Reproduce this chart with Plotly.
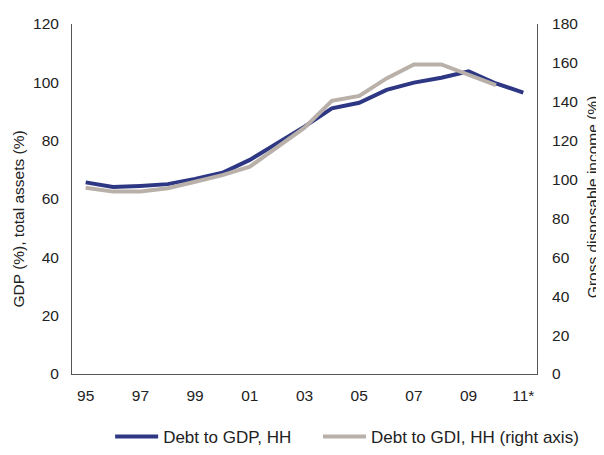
import plotly.graph_objects as go

years = ["95", "96", "97", "98", "99", "00", "01", "02", "03", "04", "05",
         "06", "07", "08", "09", "10", "11*"]
shown_ticks = ["95", "97", "99", "01", "03", "05", "07", "09", "11*"]
debt_gdp = [65.7, 64.1, 64.5, 65.1, 66.9, 69.0, 73.4, 79.1, 84.8, 91.1, 93.0,
            97.4, 99.9, 101.6, 103.8, 99.6, 96.5]
debt_gdi = [95.8, 93.8, 93.8, 95.5, 98.9, 102.3, 106.6, 116.9, 126.7, 140.5,
            143.0, 152.0, 159.2, 159.2, 153.8, 148.6, None]

BLUE = "#2E3784"
GREY = "#B8B0A9"
FONT = "Liberation Sans, Arial, sans-serif"

fig = go.Figure()
fig.add_trace(go.Scatter(x=years, y=debt_gdi, mode="lines", name="Debt to GDI, HH (right axis)",
                         line=dict(color=GREY, width=4), yaxis="y2", legend="legend2"))
fig.add_trace(go.Scatter(x=years, y=debt_gdp, mode="lines", name="Debt to GDP, HH",
                         line=dict(color=BLUE, width=4), yaxis="y", legend="legend"))

leg_common = dict(orientation="h", y=-0.18, yanchor="middle", xanchor="left",
                  font=dict(size=17), itemwidth=43, bgcolor="rgba(0,0,0,0)")

fig.update_layout(
    width=596, height=447,
    margin=dict(l=64, r=67, t=16, b=81, autoexpand=False),
    paper_bgcolor="white", plot_bgcolor="white",
    font=dict(family=FONT, size=15.5, color="#222222"),
    showlegend=True,
    legend=dict(x=0.082, **leg_common),
    legend2=dict(x=0.529, **leg_common),
    xaxis=dict(type="category", categoryorder="array", categoryarray=years,
               tickvals=shown_ticks, ticktext=shown_ticks, automargin=False,
               range=[-0.5, 16.5], showgrid=False, zeroline=False,
               showline=True, linecolor="#555555", linewidth=1,
               ticks="", tickfont=dict(size=15.5), ticklabelstandoff=7),
    yaxis=dict(range=[0, 120], dtick=20, showgrid=False, zeroline=False, automargin=False,
               showline=True, linecolor="#555555", linewidth=1, ticks="",
               tickfont=dict(size=15.5), ticklabelstandoff=9),
    yaxis2=dict(range=[0, 180], dtick=20, overlaying="y", side="right", automargin=False,
                showgrid=False, zeroline=False,
                showline=True, linecolor="#555555", linewidth=1, ticks="",
                tickfont=dict(size=15.5), ticklabelstandoff=11),
    annotations=[
        dict(text="GDP (%), total assets (%)", textangle=-90, showarrow=False,
             xref="paper", yref="paper", x=-0.115, y=0.443,
             xanchor="center", yanchor="middle", font=dict(size=15.5)),
        dict(text="Gross disposable income (%)", textangle=-90, showarrow=False,
             xref="paper", yref="paper", x=1.121, y=0.506,
             xanchor="center", yanchor="middle", font=dict(size=15.5)),
    ],
)

fig.write_html("out.html")
